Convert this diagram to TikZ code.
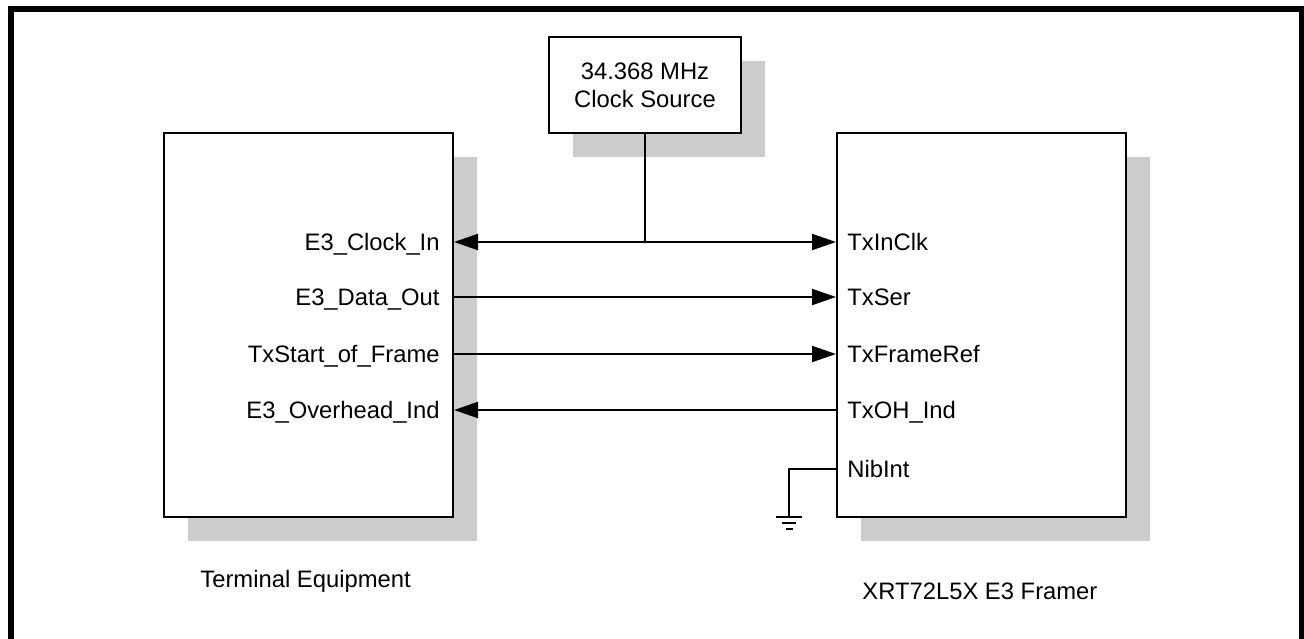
\documentclass[tikz,border=0pt]{standalone}
\usepackage{fontspec}
\setmainfont{Liberation Sans}
\usetikzlibrary{arrows.meta,shadows}
\definecolor{shadowgray}{RGB}{204,204,204}
\begin{document}
\begin{tikzpicture}[x=0.5pt,y=-0.5pt,
  font=\fontsize{11.9}{14}\selectfont,
  block/.style={draw, line width=1pt, fill=white, inner sep=0pt,
    drop shadow={shadow xshift=12pt, shadow yshift=-12pt, fill=shadowgray, opacity=1}},
  wire/.style={line width=1pt},
  tip/.style={-{Triangle[length=12pt,width=8pt]}},
  llab/.style={anchor=base east, inner sep=0pt, xshift=-7pt, yshift=-4.25pt},
  rlab/.style={anchor=base west, inner sep=0pt, xshift=5.5pt, yshift=-4.25pt},
  captext/.style={anchor=base west, inner sep=0pt}]
\useasboundingbox (0,0) rectangle (1304,638);
\clip (0,0) rectangle (1304,638);
% outer frame
\draw[line width=3pt] (10.5,700) -- (10.5,9) -- (1302,9) -- (1302,700);
% blocks
\node[block, minimum width=144.5pt, minimum height=192pt] (lbox) at (308.5,325) {};
\node[block, minimum width=144.5pt, minimum height=192pt] (rbox) at (981.5,325) {};
\node[block, minimum width=96pt, minimum height=48pt, align=center] (clk) at (645,85) {34.368 MHz\\Clock Source};
% rows
\coordinate (r1) at (0,242);
\coordinate (r2) at (0,297);
\coordinate (r3) at (0,354);
\coordinate (r4) at (0,410);
\coordinate (r5) at (0,469);
% left labels
\node[llab] (l1) at (lbox.east |- r1) {E3\_Clock\_In};
\node[llab] (l2) at (lbox.east |- r2) {E3\_Data\_Out};
\node[llab] (l3) at (lbox.east |- r3) {TxStart\_of\_Frame};
\node[llab] (l4) at (lbox.east |- r4) {E3\_Overhead\_Ind};
% right labels
\node[rlab] (q1) at (rbox.west |- r1) {TxInClk};
\node[rlab] (q2) at (rbox.west |- r2) {TxSer};
\node[rlab] (q3) at (rbox.west |- r3) {TxFrameRef};
\node[rlab] (q4) at (rbox.west |- r4) {TxOH\_Ind};
\node[rlab] (q5) at (rbox.west |- r5) {NibInt};
% connectors
\draw[wire, {Triangle[length=12pt,width=8pt]}-{Triangle[length=12pt,width=8pt]}] (lbox.east |- r1) -- (rbox.west |- r1);
\coordinate (jn) at (clk.south |- r1);
\draw[wire] (clk.south) -- (jn);
\draw[wire, tip] (lbox.east |- r2) -- (rbox.west |- r2);
\draw[wire, tip] (lbox.east |- r3) -- (rbox.west |- r3);
\draw[wire, tip] (rbox.west |- r4) -- (lbox.east |- r4);
% ground
\coordinate (gnd) at (789,517);
\draw[wire] (rbox.west |- r5) -- (gnd |- r5) -- (gnd);
\draw[wire] ([xshift=-6.5pt]gnd) -- ([xshift=6.5pt]gnd);
\draw[wire] ([xshift=-3.5pt,yshift=-3pt]gnd) -- ([xshift=3.5pt,yshift=-3pt]gnd);
\draw[wire] ([xshift=-1.75pt,yshift=-6pt]gnd) -- ([xshift=1.75pt,yshift=-6pt]gnd);
% captions
\node[captext] (tcap) at (200,587) {Terminal Equipment};
\node[captext] (fcap) at (862,599) {XRT72L5X E3 Framer};
\end{tikzpicture}
\end{document}
